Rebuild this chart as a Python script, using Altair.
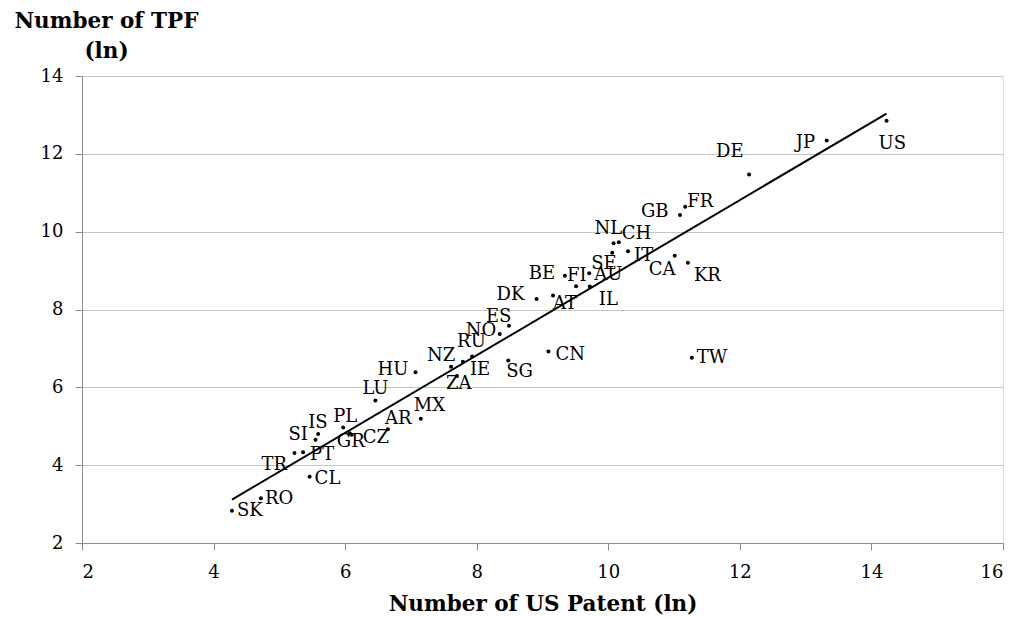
import altair as alt
import pandas as pd

# Country codes
countries = ["SK", "RO", "CL", "TR", "PT", "SI", "IS", "PL", "GR", "CZ",
             "AR", "MX", "LU", "HU", "NZ", "IE", "RU", "ZA", "NO", "ES",
             "SG", "CN", "DK", "AT", "BE", "FI", "AU", "IL", "SE", "NL",
             "CH", "IT", "CA", "KR", "GB", "FR", "DE", "JP", "US", "TW"]

# Number of US patents (ln)
us_patent = [4.28, 4.72, 5.46, 5.23, 5.36, 5.55, 5.59, 5.97, 6.07, 6.10,
             6.65, 7.15, 6.46, 7.07, 7.61, 7.79, 7.93, 7.70, 8.35, 8.49,
             8.48, 9.09, 8.91, 9.16, 9.34, 9.51, 9.71, 9.72, 10.06, 10.08,
             10.16, 10.30, 11.01, 11.21, 11.09, 11.17, 12.14, 13.32, 14.23, 11.27]

# Number of TPF (ln)
tpf = [2.83, 3.15, 3.70, 4.31, 4.33, 4.65, 4.80, 4.97, 4.82, 4.78,
       4.92, 5.19, 5.66, 6.39, 6.53, 6.66, 6.79, 6.29, 7.37, 7.58,
       6.69, 6.92, 8.27, 8.36, 8.87, 8.60, 8.93, 8.59, 9.46, 9.70,
       9.73, 9.50, 9.38, 9.20, 10.43, 10.64, 11.47, 12.34, 12.85, 6.76]

# Label offsets from the dot, in pixels (left edge of text, vertical centre)
label_dx = [5, 4, 5, -33, 7, -27, -10, -10, -13, 11,
            -3, -7, -13, -38, -24, 7, -15, -11, -34, -23,
            -2, 7, -40, 0, -36, -9, 5, 9, -21, -19,
            3, 6, -26, 6, -39, 2, -33, -31, -8, 5]
label_dy = [0, 1, 2, 12, 3, -5, -11, -10, 9, 3,
            -10, -13, -12, -2, -11, 8, -15, 8, -3, -9,
            12, 3, -4, 9, -2, -10, 2, 13, 11, -14,
            -8, 5, 14, 13, -3, -5, -22, 2, 23, 0]

W, H = 921, 467
X_DOM = [2, 16]
Y_DOM = [2, 14]
px_x = W / (X_DOM[1] - X_DOM[0])
px_y = H / (Y_DOM[1] - Y_DOM[0])

df = pd.DataFrame({
    "country": countries,
    "x": us_patent,
    "y": tpf,
    "ldx": label_dx,
    "ldy": label_dy,
})

FONT = "DejaVu Serif"
AX_COL = "#8c8c8c"

xscale = alt.Scale(domain=X_DOM, nice=False, zero=False)
yscale = alt.Scale(domain=Y_DOM, nice=False, zero=False)

xaxis = alt.Axis(values=list(range(2, 17, 2)), format="d", title="Number of US Patent (ln)",
                 grid=False, domainColor=AX_COL, tickColor=AX_COL, tickSize=7,
                 labelFont=FONT, labelFontSize=18, labelColor="black", labelPadding=13,
                 titleFont=FONT, titleFontSize=21.5, titleFontWeight="bold",
                 titleColor="black", titleBaseline="alphabetic", titleY=67)
yaxis = alt.Axis(values=list(range(2, 15, 2)), format="d", title=["Number of TPF", "(ln)"],
                 grid=True, gridColor="#c4c4c4", domainColor=AX_COL, tickColor=AX_COL,
                 tickSize=7, labelFont=FONT, labelFontSize=18, labelColor="black",
                 labelPadding=12,
                 titleFont=FONT, titleFontSize=21.5, titleFontWeight="bold",
                 titleColor="black", titleAngle=0, titleAlign="center",
                 titleBaseline="top", titleX=24, titleY=-66, titleLineHeight=30)

base = alt.Chart(df)

points = base.mark_circle(size=16, color="black", opacity=1).encode(
    x=alt.X("x:Q", scale=xscale, axis=xaxis),
    y=alt.Y("y:Q", scale=yscale, axis=yaxis),
)

trend = base.transform_regression("x", "y").mark_line(color="black", strokeWidth=2).encode(
    x=alt.X("x:Q", scale=xscale),
    y=alt.Y("y:Q", scale=yscale),
)

labels = base.transform_calculate(
    lx=f"datum.x + datum.ldx / {px_x}",
    ly=f"datum.y - datum.ldy / {px_y}",
).mark_text(font=FONT, fontSize=18, align="left", baseline="middle", color="black").encode(
    x=alt.X("lx:Q", scale=xscale),
    y=alt.Y("ly:Q", scale=yscale),
    text="country:N",
)

chart = alt.layer(trend, points, labels).properties(
    width=W, height=H,
    autosize=alt.AutoSizeParams(type="none"),
    padding={"left": 74, "top": 68, "right": 13, "bottom": 78},
).configure_view(stroke=None).configure(background="white")

chart.save("out.html", embed_options={"renderer": "svg", "actions": False})
